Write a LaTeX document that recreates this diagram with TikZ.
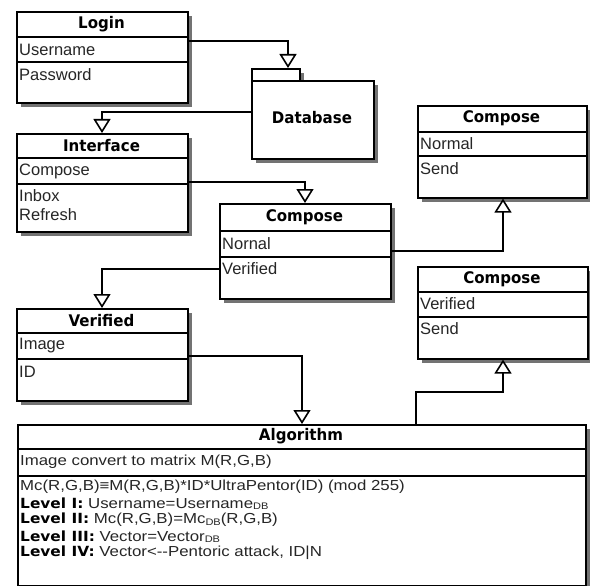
\documentclass[tikz,border=0pt]{standalone}
\usepackage{fontspec}
\setmainfont{Liberation Sans}
\newfontfamily\algfont{Liberation Sans}[FakeStretch=1.16]
\newfontfamily\hdrfont{DejaVu Sans}[FakeStretch=0.94]
\newfontfamily\lvlfont{DejaVu Sans}[FakeStretch=1.1]
\usetikzlibrary{arrows.meta,calc}
\definecolor{shadowgray}{RGB}{115,115,115}
\tikzset{
  umlbox/.style={draw=black, line width=1.6pt, fill=white, inner sep=0pt, anchor=north west},
  shadowc/.style={fill=shadowgray, draw=none},
  sep/.style={line width=1.6pt},
  hdr/.style={inner sep=0pt, font=\hdrfont\bfseries\fontsize{16}{18}\selectfont},
  txt/.style={inner sep=0pt, anchor=west, text=black!85, font=\fontsize{16.5}{19}\selectfont},
  atxt/.style={inner sep=0pt, anchor=west, text=black!85, font=\algfont\fontsize{14.5}{16}\selectfont},
  conn/.style={line width=1.5pt, -{Triangle[open, length=14pt, width=17pt, line width=1.6pt]}},
}
\newcommand{\dbsub}{{\fontsize{9.5}{10}\selectfont\raisebox{-1.5pt}{DB}}}
\newcommand{\lvl}[1]{{\lvlfont\bfseries\fontsize{14}{16}\selectfont\color{black}#1}}
\begin{document}
\begin{tikzpicture}[x=1pt,y=-1pt]
\fill[white] (0,0) rectangle (590,586);
\useasboundingbox (0,0) rectangle (590,586);
% Shadows (drawn first, boxes cover them)
\fill[shadowc] (21,16) rectangle (192,107);     % login
\fill[shadowc] (256,73) rectangle (304,85);     % db tab
\fill[shadowc] (256,85) rectangle (378,163);    % db
\fill[shadowc] (21,138) rectangle (192,236);    % interface
\fill[shadowc] (224,208) rectangle (395,303);   % compose middle
\fill[shadowc] (422,110) rectangle (591,202);   % compose right top
\fill[shadowc] (422,271) rectangle (592,363);   % compose right bottom
\fill[shadowc] (21,313) rectangle (192,405);    % verified
\fill[shadowc] (22,429) rectangle (590,590);    % algorithm
% Login
\node[umlbox, minimum width=171pt, minimum height=91pt] (login) at (16,11) {};
\draw[sep] (login.west |- 0,37) -- (login.east |- 0,37);
\draw[sep] (login.west |- 0,62) -- (login.east |- 0,62);
\node[hdr] (loginH) at (101.5,24) {Login};
\node[txt] (loginU) at (19,50) {Username};
\node[txt] (loginP) at (19,75) {Password};
% Database
\node[umlbox, minimum width=48pt, minimum height=12pt] (dbtab) at (251,68) {};
\node[umlbox, minimum width=122pt, minimum height=78pt] (db) at (251,80) {};
\node[hdr] (dbT) at (312,118) {Database};
% Interface
\node[umlbox, minimum width=171pt, minimum height=98pt] (iface) at (16,133) {};
\draw[sep] (iface.west |- 0,158) -- (iface.east |- 0,158);
\draw[sep] (iface.west |- 0,184) -- (iface.east |- 0,184);
\node[hdr] (ifaceH) at (101.5,145.5) {Interface};
\node[txt] (ifaceC) at (19,171) {Compose};
\node[txt] (ifaceI) at (19,196) {Inbox};
\node[txt] (ifaceR) at (19,215) {Refresh};
% Compose middle
\node[umlbox, minimum width=171pt, minimum height=95pt] (compm) at (219,203) {};
\draw[sep] (compm.west |- 0,231) -- (compm.east |- 0,231);
\draw[sep] (compm.west |- 0,257) -- (compm.east |- 0,257);
\node[hdr] (compmH) at (304.5,217) {Compose};
\node[txt] (compmN) at (222,244) {Nornal};
\node[txt] (compmV) at (222,269) {Verified};
% Compose right top
\node[umlbox, minimum width=169pt, minimum height=92pt] (compa) at (417,105) {};
\draw[sep] (compa.west |- 0,132) -- (compa.east |- 0,132);
\draw[sep] (compa.west |- 0,156) -- (compa.east |- 0,156);
\node[hdr] (compaH) at (501.5,118.5) {Compose};
\node[txt] (compaN) at (420,144) {Normal};
\node[txt] (compaS) at (420,169) {Send};
% Compose right bottom
\node[umlbox, minimum width=170pt, minimum height=92pt] (compb) at (417,266) {};
\draw[sep] (compb.west |- 0,292) -- (compb.east |- 0,292);
\draw[sep] (compb.west |- 0,317) -- (compb.east |- 0,317);
\node[hdr] (compbH) at (502,279) {Compose};
\node[txt] (compbV) at (420,304) {Verified};
\node[txt] (compbS) at (420,329) {Send};
% Verified
\node[umlbox, minimum width=171pt, minimum height=92pt] (verif) at (16,308) {};
\draw[sep] (verif.west |- 0,333) -- (verif.east |- 0,333);
\draw[sep] (verif.west |- 0,359) -- (verif.east |- 0,359);
\node[hdr] (verifH) at (101.5,320.5) {Verified};
\node[txt] (verifI) at (19,346) {Image};
\node[txt] (verifD) at (19,372) {ID};
% Algorithm
\node[umlbox, minimum width=568pt, minimum height=161pt] (algo) at (17,424) {};
\draw[sep] (algo.west |- 0,449) -- (algo.east |- 0,449);
\draw[sep] (algo.west |- 0,476) -- (algo.east |- 0,476);
\node[hdr] (algoH) at (301,436.5) {Algorithm};
\node[atxt] (algo1) at (20,462) {Image convert to matrix M(R,G,B)};
\node[atxt] (algo2) at (20,487) {Mc(R,G,B)≡M(R,G,B)*ID*UltraPentor(ID) (mod 255)};
\node[atxt] (algo3) at (20,503.5) {\lvl{Level I:} Username=Username\dbsub};
\node[atxt] (algo4) at (20,520) {\lvl{Level II:} Mc(R,G,B)=Mc\dbsub(R,G,B)};
\node[atxt] (algo5) at (20,536.5) {\lvl{Level III:} Vector=Vector\dbsub};
\node[atxt] (algo6) at (20,553) {\lvl{Level IV:} Vector<{-}{-}Pentoric attack, ID|N};
% Connectors
\draw[conn] (login.east |- 0,41) -| (dbtab.north -| 288,0);
\draw[conn] (db.west |- 0,112) -| (iface.north -| 102,0);
\draw[conn] (iface.east |- 0,182) -| (compm.north -| 305,0);
\draw[conn] (compm.east |- 0,251) -| (compa.south -| 503,0);
\draw[conn] (compm.west |- 0,269) -| (verif.north -| 102,0);
\draw[conn] (verif.east |- 0,356) -| (algo.north -| 302,0);
\draw[conn] (algo.north -| 416,0) |- (503,392) -- (compb.south -| 503,0);
\end{tikzpicture}
\end{document}
